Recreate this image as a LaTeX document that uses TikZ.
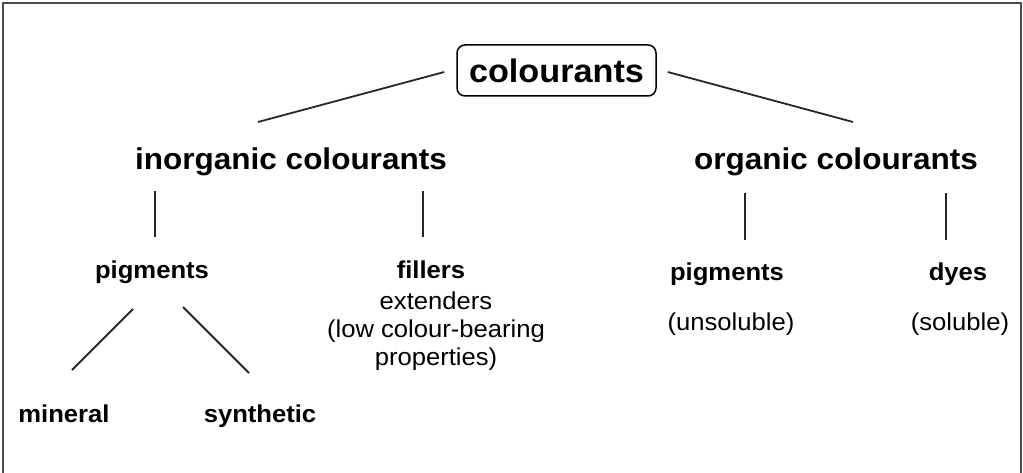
\documentclass[tikz,border=0pt]{standalone}
\usepackage{fontspec}
\setmainfont{Liberation Sans}[FakeStretch=1.05]
\begin{document}
\begin{tikzpicture}[x=1pt,y=-1pt,
  head/.style={font=\fontsize{30}{32}\selectfont\bfseries, anchor=base, inner sep=0pt},
  kind/.style={font=\fontsize{24.4}{28}\selectfont\bfseries, anchor=base, inner sep=0pt},
  note/.style={font=\fontsize{24.4}{28}\selectfont, anchor=base, inner sep=0pt, align=center},
  link/.style={line width=1.8pt, black!85}]
\useasboundingbox (0,0) rectangle (1023,473);
\draw[line width=2pt, black!70] (3,473) -- (3,3) -- (1021,3) -- (1021,473);

\node[draw, line width=1.5pt, rounded corners=8pt, minimum width=199pt, minimum height=51pt,
  font=\fontsize{32.6}{34}\selectfont\bfseries] (top) at (556.5,70.5) {colourants};

\node[head] (inorg) at (291,170) {inorganic colourants};
\node[head] (org) at (836,170) {organic colourants};

\node[kind] (pigA) at (152,279) {pigments};
\node[kind] (fill) at (431,279) {fillers};
\node[note] (fillnote) at (436,365) {extenders\\(low colour-bearing\\properties)};
\node[kind] (mineral) at (64,422) {mineral};
\node[kind] (synth) at (260,422) {synthetic};

\node[kind] (pigB) at (727,280) {pigments};
\node[note] (unsol) at (731,330) {(unsoluble)};
\node[kind] (dyes) at (958,280) {dyes};
\node[note] (sol) at (960,330) {(soluble)};

\draw[link] ([shift={(-12,1.5)}]top.west) -- ([shift={(-33,-48)}]inorg.base);
\draw[link] ([shift={(11,1.5)}]top.east) -- ([shift={(17,-48)}]org.base);

\draw[link] ([shift={(-136,21)}]inorg.base) -- ([shift={(3,-42)}]pigA.base);
\draw[link] ([shift={(132,21)}]inorg.base) -- ([shift={(-8,-42)}]fill.base);
\draw[link] ([shift={(-91,23)}]org.base) -- ([shift={(18,-40)}]pigB.base);
\draw[link] ([shift={(110,23)}]org.base) -- ([shift={(-12,-40)}]dyes.base);

\draw[link] ([shift={(-19,30)}]pigA.base) -- ([shift={(8,-52)}]mineral.base);
\draw[link] ([shift={(31,28)}]pigA.base) -- ([shift={(-11,-49)}]synth.base);
\end{tikzpicture}
\end{document}
